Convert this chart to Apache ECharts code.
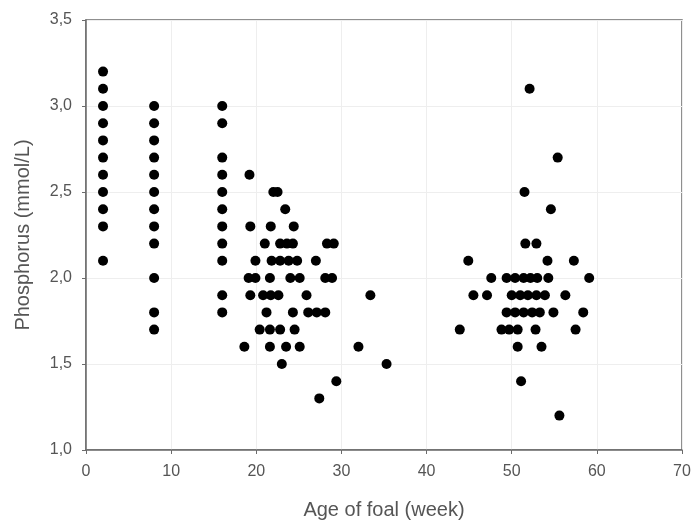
<!DOCTYPE html>
<html>
<head>
<meta charset="utf-8">
<script src="https://cdn.jsdelivr.net/npm/echarts@6/dist/echarts.min.js"></script>
<style>html,body{margin:0;padding:0;background:#fff}#c{width:696px;height:527px}</style>
</head>
<body>
<div id="c"></div>
<script>
// Age of foal (weeks) and phosphorus (mmol/L)
const week2 = [[2,3.2],[2,3.1],[2,3.0],[2,2.9],[2,2.8],[2,2.7],[2,2.6],[2,2.5],[2,2.4],[2,2.3],[2,2.1]];
const week8 = [[8,3.0],[8,2.9],[8,2.8],[8,2.7],[8,2.6],[8,2.5],[8,2.4],[8,2.3],[8,2.2],[8,2.0],[8,1.8],[8,1.7]];
const week16 = [[16,3.0],[16,2.9],[16,2.7],[16,2.6],[16,2.5],[16,2.4],[16,2.3],[16,2.2],[16,2.1],[16,1.9],[16,1.8]];
const middle = [
  [19.2,2.6],
  [22.0,2.5],[22.5,2.5],
  [23.4,2.4],
  [19.3,2.3],[21.7,2.3],[24.4,2.3],
  [21.0,2.2],[22.8,2.2],[23.6,2.2],[24.3,2.2],[28.3,2.2],[29.1,2.2],
  [19.9,2.1],[21.8,2.1],[22.8,2.1],[23.8,2.1],[24.8,2.1],[27.0,2.1],
  [19.1,2.0],[19.9,2.0],[21.6,2.0],[24.0,2.0],[25.1,2.0],[28.1,2.0],[28.9,2.0],
  [19.3,1.9],[20.8,1.9],[21.7,1.9],[22.6,1.9],[25.9,1.9],[33.4,1.9],
  [21.2,1.8],[24.3,1.8],[26.1,1.8],[27.1,1.8],[28.1,1.8],
  [20.4,1.7],[21.6,1.7],[22.8,1.7],[24.5,1.7],
  [18.6,1.6],[21.6,1.6],[23.5,1.6],[25.1,1.6],[32.0,1.6],
  [23.0,1.5],[35.3,1.5],
  [29.4,1.4],
  [27.4,1.3]
];
const yearling = [
  [52.1,3.1],
  [55.4,2.7],
  [51.5,2.5],
  [54.6,2.4],
  [51.6,2.2],[52.9,2.2],
  [44.9,2.1],[54.2,2.1],[57.3,2.1],
  [47.6,2.0],[49.4,2.0],[50.4,2.0],[51.4,2.0],[52.2,2.0],[53.0,2.0],[54.3,2.0],[59.1,2.0],
  [45.5,1.9],[47.1,1.9],[50.0,1.9],[51.0,1.9],[51.9,1.9],[52.9,1.9],[53.9,1.9],[56.3,1.9],
  [49.4,1.8],[50.4,1.8],[51.4,1.8],[52.4,1.8],[53.3,1.8],[54.9,1.8],[58.4,1.8],
  [43.9,1.7],[48.8,1.7],[49.7,1.7],[50.7,1.7],[52.8,1.7],[57.5,1.7],
  [50.7,1.6],[53.5,1.6],
  [51.1,1.4],
  [55.6,1.2]
];
const xTicks = [0,10,20,30,40,50,60,70];
const yTicks = [1.0,1.5,2.0,2.5,3.0,3.5];

const allPoints = [].concat(week2, week8, week16, middle, yearling);
const font = 'Liberation Sans, Arial, sans-serif';
const chart = echarts.init(document.getElementById('c'));
chart.setOption({
  animation: false,
  backgroundColor: '#fff',
  grid: { left: 86, right: 14, top: 20, bottom: 77, show: true, borderColor: '#6b6b6b', borderWidth: 1.5 },
  xAxis: {
    type: 'value', min: xTicks[0], max: xTicks[xTicks.length-1], interval: 10,
    name: 'Age of foal (week)', nameLocation: 'middle', nameGap: 50,
    nameTextStyle: { color: '#555', fontSize: 20, fontFamily: font },
    axisLine: { show: true, lineStyle: { color: '#6b6b6b', width: 1.5 } },
    axisTick: { show: true, length: 4, lineStyle: { color: '#6b6b6b' } },
    axisLabel: { color: '#555', fontSize: 16, fontFamily: font, margin: 14 },
    splitLine: { show: true, lineStyle: { color: '#eeeeee', width: 1 } }
  },
  yAxis: {
    type: 'value', min: yTicks[0], max: yTicks[yTicks.length-1], interval: 0.5,
    name: 'Phosphorus (mmol/L)', nameLocation: 'middle', nameGap: 53,
    nameTextStyle: { color: '#555', fontSize: 20, fontFamily: font },
    axisLine: { show: true, lineStyle: { color: '#6b6b6b', width: 1.5 } },
    axisTick: { show: true, length: 4, lineStyle: { color: '#6b6b6b' } },
    axisLabel: { color: '#555', fontSize: 16, fontFamily: font, margin: 14,
      formatter: v => v.toFixed(1).replace('.', ',') },
    splitLine: { show: true, lineStyle: { color: '#eeeeee', width: 1 } }
  },
  series: [{
    type: 'scatter',
    data: allPoints,
    symbol: 'circle',
    symbolSize: 10,
    itemStyle: { color: '#000', opacity: 1 }
  }]
});
</script>
</body>
</html>
